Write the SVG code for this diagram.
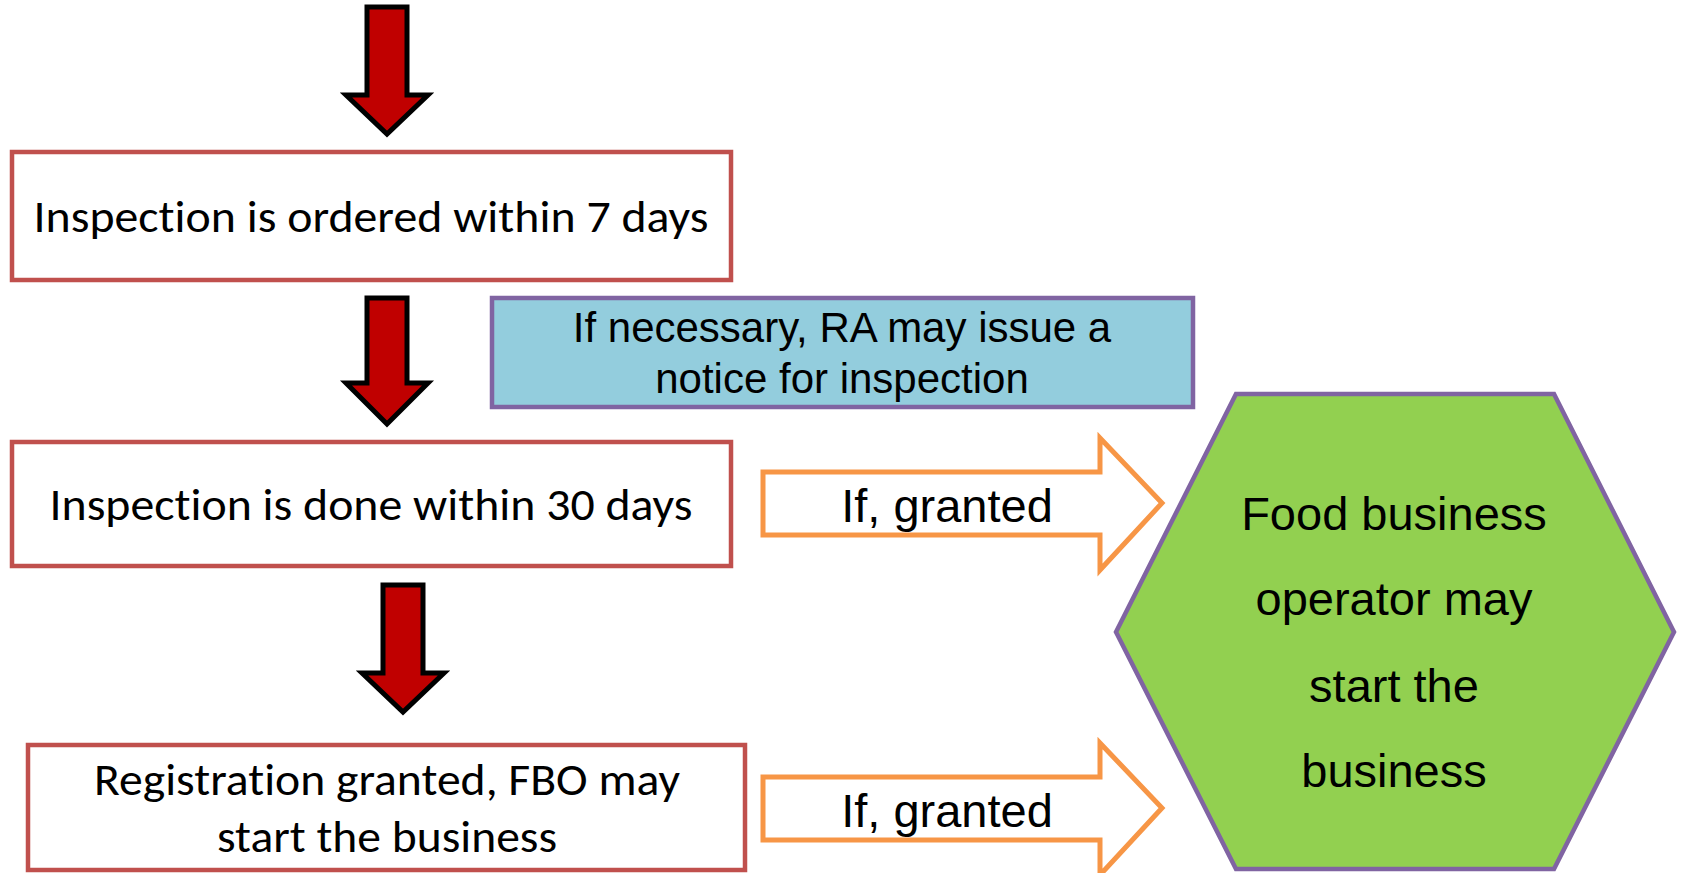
<svg xmlns="http://www.w3.org/2000/svg" width="1682" height="873" viewBox="0 0 1682 873">
<style>
.down{fill:#C00000;stroke:#000;stroke-width:5;stroke-linejoin:miter}
.box{fill:#fff;stroke:#C0504D;stroke-width:4.5}
.cal{font-family:Carlito,Lato,"Liberation Sans",sans-serif;font-size:45px;fill:#000;text-anchor:middle;font-variant-ligatures:none;font-feature-settings:"liga" 0,"dlig" 0}
.ar{font-family:"Liberation Sans",Arial,sans-serif;fill:#000;text-anchor:middle}
.orange{fill:#fff;stroke:#F79646;stroke-width:5}
</style>
<rect width="1682" height="873" fill="#fff"/>
<g id="connectors">
<polygon class="down" points="367,7 407,7 407,95 428,95 387,134 346,95 367,95"/>
<polygon class="down" points="367,298 407,298 407,383 428,383 387,424 346,383 367,383"/>
<polygon class="down" points="383,585 423,585 423,673 444,673 403,712 362,673 383,673"/>
<g id="granted1">
<polygon class="orange" points="763,472 1100,472 1100,438 1162,503 1100,570 1100,535 763,535"/>
<text class="ar" x="947" y="522" font-size="47">If, granted</text>
</g>
<g id="granted2">
<polygon class="orange" points="763,777 1100,777 1100,743 1162,808 1100,875 1100,840 763,840"/>
<text class="ar" x="947" y="827" font-size="47">If, granted</text>
</g>
</g>
<g id="ordered">
<rect class="box" x="12" y="152" width="719" height="128"/>
<text class="cal" x="371" y="232" textLength="675" lengthAdjust="spacingAndGlyphs">Inspection is ordered within 7 days</text>
</g>
<g id="notice">
<rect x="492" y="298" width="701" height="109" fill="#93CDDD" stroke="#8064A2" stroke-width="4.5"/>
<text class="ar" x="842" y="342" font-size="42">If necessary, RA may issue a</text>
<text class="ar" x="842" y="393" font-size="42">notice for inspection</text>
</g>
<g id="done">
<rect class="box" x="12" y="442" width="719" height="124"/>
<text class="cal" x="371" y="520" textLength="643" lengthAdjust="spacingAndGlyphs">Inspection is done within 30 days</text>
</g>
<g id="registration">
<rect class="box" x="28" y="745" width="717" height="125"/>
<text class="cal" x="387" y="795" textLength="586" lengthAdjust="spacingAndGlyphs">Registration granted, FBO may</text>
<text class="cal" x="387" y="852" textLength="340" lengthAdjust="spacingAndGlyphs">start the business</text>
</g>
<g id="fbo">
<polygon points="1236,394 1554,394 1674,632 1554,869 1236,869 1116,632" fill="#92D050" stroke="#8064A2" stroke-width="4.5"/>
<text class="ar" x="1394" y="530" font-size="47">Food business</text>
<text class="ar" x="1394" y="615" font-size="47">operator may</text>
<text class="ar" x="1394" y="702" font-size="47">start the</text>
<text class="ar" x="1394" y="787" font-size="47">business</text>
</g>
</svg>
